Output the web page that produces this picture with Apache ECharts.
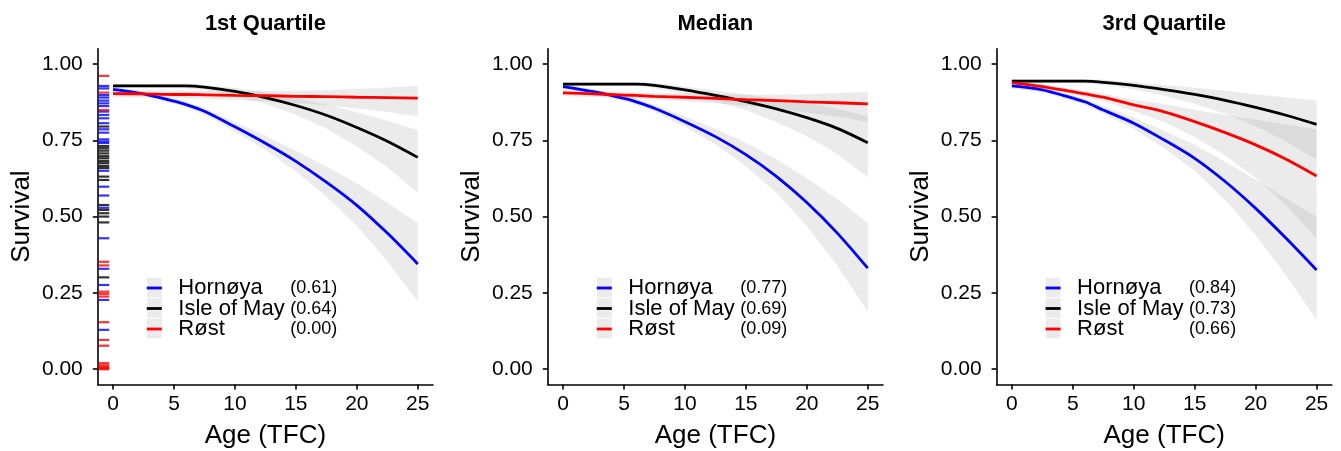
<!DOCTYPE html>
<html>
<head>
<meta charset="utf-8">
<script src="https://cdn.jsdelivr.net/npm/echarts@6/dist/echarts.min.js"></script>
<style>html,body{margin:0;padding:0;background:#fff;}#c{width:1341px;height:451px;}</style>
</head>
<body>
<div id="c"></div>
<script>
// ---------- data ----------
const ages = [0, 2.5, 5, 6, 7.5, 10, 12.5, 15, 17.5, 20, 22.5, 25];
const colonies = ['Hornøya', 'Isle of May', 'Røst'];
const panelTitles = ['1st Quartile', 'Median', '3rd Quartile'];
const xTicks = [0, 5, 10, 15, 20, 25];
const yTicks = [0, 0.25, 0.5, 0.75, 1];

// 1st Quartile
const q1Hornoya   = [.917,.902,.878,.867,.845,.794,.740,.681,.613,.537,.446,.345];
const q1HornoyaLo = [.909,.894,.869,.857,.834,.779,.718,.648,.566,.470,.354,.222];
const q1HornoyaHi = [.925,.910,.887,.877,.856,.810,.764,.716,.664,.609,.545,.478];
const q1Isle      = [.928,.928,.928,.928,.924,.910,.890,.864,.832,.792,.747,.694];
const q1IsleLo    = [.922,.922,.921,.920,.915,.897,.870,.834,.789,.730,.662,.579];
const q1IsleHi    = [.934,.934,.935,.935,.932,.921,.907,.888,.867,.841,.814,.784];
const q1Rost      = [.903,.902,.900,.900,.899,.897,.896,.894,.893,.891,.890,.888];
const q1RostLo    = [.891,.890,.888,.887,.886,.882,.878,.872,.865,.854,.843,.828];
const q1RostHi    = [.915,.914,.912,.912,.912,.911,.912,.912,.915,.918,.923,.929];
const q1Values    = [0.61, 0.64, 0.00];

// Median
const medHornoya   = [.926,.909,.887,.876,.855,.811,.762,.703,.632,.546,.446,.331];
const medHornoyaLo = [.918,.901,.878,.866,.843,.794,.737,.666,.578,.469,.340,.189];
const medHornoyaHi = [.934,.917,.896,.886,.867,.828,.788,.741,.688,.626,.557,.480];
const medIsle      = [.934,.934,.934,.934,.930,.915,.897,.877,.853,.824,.789,.742];
const medIsleLo    = [.928,.928,.927,.927,.921,.902,.878,.848,.810,.763,.705,.629];
const medIsleHi    = [.940,.940,.941,.941,.938,.926,.913,.900,.886,.871,.853,.828];
const medRost      = [.905,.902,.898,.897,.894,.891,.887,.883,.880,.876,.873,.869];
const medRostLo    = [.895,.892,.888,.886,.883,.878,.871,.863,.854,.841,.828,.811];
const medRostHi    = [.915,.912,.908,.907,.905,.903,.901,.899,.900,.901,.905,.909];
const medValues    = [0.77, 0.69, 0.09];

// 3rd Quartile
const q3Hornoya   = [.928,.915,.888,.876,.849,.806,.751,.691,.615,.527,.429,.325];
const q3HornoyaLo = [.920,.907,.879,.866,.837,.788,.724,.650,.554,.440,.308,.162];
const q3HornoyaHi = [.936,.923,.897,.886,.862,.825,.780,.735,.680,.621,.559,.500];
const q3Isle      = [.944,.944,.944,.944,.940,.930,.916,.900,.881,.858,.832,.802];
const q3IsleLo    = [.938,.938,.937,.936,.931,.917,.896,.870,.837,.796,.746,.686];
const q3IsleHi    = [.950,.950,.951,.951,.948,.941,.931,.922,.912,.901,.890,.880];
const q3Rost      = [.939,.926,.909,.902,.891,.866,.843,.811,.775,.735,.688,.633];
const q3RostLo    = [.931,.918,.899,.891,.878,.845,.810,.761,.700,.627,.537,.429];
const q3RostHi    = [.947,.934,.918,.912,.903,.883,.869,.850,.833,.817,.802,.786];
const q3Values    = [0.84, 0.73, 0.66];

// rug (1st Quartile panel, left margin)
const rugHornoya = [.928,.920,.898,.890,.880,.871,.862,.844,.833,.822,.806,.786,.775,.753,.746,.741,.650,.598,.569,.529,.429,.329,.276,.227,.129];
const rugIsle    = [.795,.731,.724,.716,.707,.698,.691,.682,.675,.666,.659,.631,.620,.538,.522,.511,.500,.481,.301];
const rugRost    = [.961,.906,.849,.352,.340,.254,.247,.238,.154,.096,.077,.020,.013,.007,.003,.000];

// ---------- layout / style ----------
const FONT = '"Liberation Sans", Arial, sans-serif';
const colors = ['#0000FF', '#000000', '#FF0000'];
const lefts = [97.8, 547.8, 996.6];
const gridTop = 48.7, gridW = 335.2, gridH = 335.8;
const xMin = -1.25, xMax = 26.25, yMin = -0.05, yMax = 1.05;
const ribbonFill = 'rgba(153,153,153,0.2)';

const panels = [
  {lines:[q1Hornoya,q1Isle,q1Rost], lo:[q1HornoyaLo,q1IsleLo,q1RostLo], hi:[q1HornoyaHi,q1IsleHi,q1RostHi], vals:q1Values},
  {lines:[medHornoya,medIsle,medRost], lo:[medHornoyaLo,medIsleLo,medRostLo], hi:[medHornoyaHi,medIsleHi,medRostHi], vals:medValues},
  {lines:[q3Hornoya,q3Isle,q3Rost], lo:[q3HornoyaLo,q3IsleLo,q3RostLo], hi:[q3HornoyaHi,q3IsleHi,q3RostHi], vals:q3Values}
];

const grid = [], xAxis = [], yAxis = [], series = [], graphic = [];
const axisLineStyle = {color:'#000', width:1.6};

function ribbonRender(params, api) {
  if (params.dataIndexInside !== 0) return null;
  const n = params.dataInsideLength;
  const top = [], bot = [];
  for (let k = 0; k < n; k++) {
    const x = api.value(0, k);
    top.push(api.coord([x, api.value(2, k)]));
    bot.push(api.coord([x, api.value(1, k)]));
  }
  return {type: 'polygon', shape: {points: top.concat(bot.reverse())},
    style: {fill: ribbonFill, stroke: null}};
}

panels.forEach((p, pi) => {
  grid.push({left: lefts[pi], top: gridTop, width: gridW, height: gridH, outerBoundsMode: 'none', containLabel: false});
  xAxis.push({
    type:'value', gridIndex: pi, min: xMin, max: xMax,
    name: 'Age (TFC)', nameLocation: 'middle', nameGap: 38,
    nameTextStyle: {fontFamily: FONT, fontSize: 26, color: '#000'},
    axisLine: {show: true, onZero: false, lineStyle: axisLineStyle},
    axisTick: {show: true, length: 5, lineStyle: axisLineStyle, customValues: xTicks},
    axisLabel: {show: true, margin: 9, fontFamily: FONT, fontSize: 21, color: '#000', customValues: xTicks},
    splitLine: {show: false}
  });
  yAxis.push({
    type:'value', gridIndex: pi, min: yMin, max: yMax,
    name: 'Survival', nameLocation: 'middle', nameGap: 63,
    nameTextStyle: {fontFamily: FONT, fontSize: 26, color: '#000'},
    axisLine: {show: true, onZero: false, lineStyle: axisLineStyle},
    axisTick: {show: true, length: 5, lineStyle: axisLineStyle, customValues: yTicks},
    axisLabel: {show: true, margin: 15, fontFamily: FONT, fontSize: 21, color: '#000', customValues: yTicks,
      formatter: v => v.toFixed(2)},
    splitLine: {show: false}
  });

  // ribbons
  colonies.forEach((c, ci) => {
    series.push({type:'custom', xAxisIndex: pi, yAxisIndex: pi, silent: true, z: 1,
      renderItem: ribbonRender, encode: {x: 0, y: [1, 2]},
      data: ages.map((a, k) => [a, p.lo[ci][k], p.hi[ci][k]])});
  });
  // fitted lines
  colonies.forEach((c, ci) => {
    series.push({type:'line', name: c, xAxisIndex: pi, yAxisIndex: pi, symbol: 'none', smooth: 0.3,
      lineStyle: {color: colors[ci], width: 2.8}, itemStyle: {color: colors[ci]}, z: 3 + ci,
      data: ages.map((a, k) => [a, p.lines[ci][k]])});
  });

  // panel title
  graphic.push({type:'text', x: lefts[pi] + gridW / 2, y: 23.5, z: 10,
    style: {text: panelTitles[pi], font: 'bold 22px ' + FONT, fill: '#000', align: 'center', verticalAlign: 'middle'}});

  // legend
  const L = lefts[pi] + 49;
  colonies.forEach((c, ci) => {
    const rowTop = 277.8 + 20.5 * ci, rowMid = rowTop + 10.2;
    graphic.push({type:'rect', z: 10, shape: {x: L, y: rowTop, width: 15, height: 19.5}, style: {fill: '#ebebeb'}});
    graphic.push({type:'rect', z: 11, shape: {x: L, y: rowMid - 1.4, width: 15, height: 2.8}, style: {fill: colors[ci]}});
    graphic.push({type:'text', x: L + 31.5, y: rowMid, z: 11,
      style: {text: c, font: '22px ' + FONT, fill: '#000', align: 'left', verticalAlign: 'middle'}});
    graphic.push({type:'text', x: L + 143.5, y: rowMid + 0.5, z: 11,
      style: {text: '(' + p.vals[ci].toFixed(2) + ')', font: '18px ' + FONT, fill: '#000', align: 'left', verticalAlign: 'middle'}});
  });
});

// rug on first panel
[rugHornoya, rugIsle, rugRost].forEach((arr, ci) => {
  series.push({type:'scatter', xAxisIndex: 0, yAxisIndex: 0, silent: true, clip: false,
    symbol: 'rect', symbolSize: [10.5, 2.2], symbolOffset: [6.2, 0],
    itemStyle: {color: colors[ci]}, z: 2,
    data: arr.map(v => [xMin, v])});
});

const chart = echarts.init(document.getElementById('c'), null, {renderer: 'canvas'});
chart.setOption({
  animation: false,
  backgroundColor: '#fff',
  grid, xAxis, yAxis, series, graphic
});
</script>
</body>
</html>
